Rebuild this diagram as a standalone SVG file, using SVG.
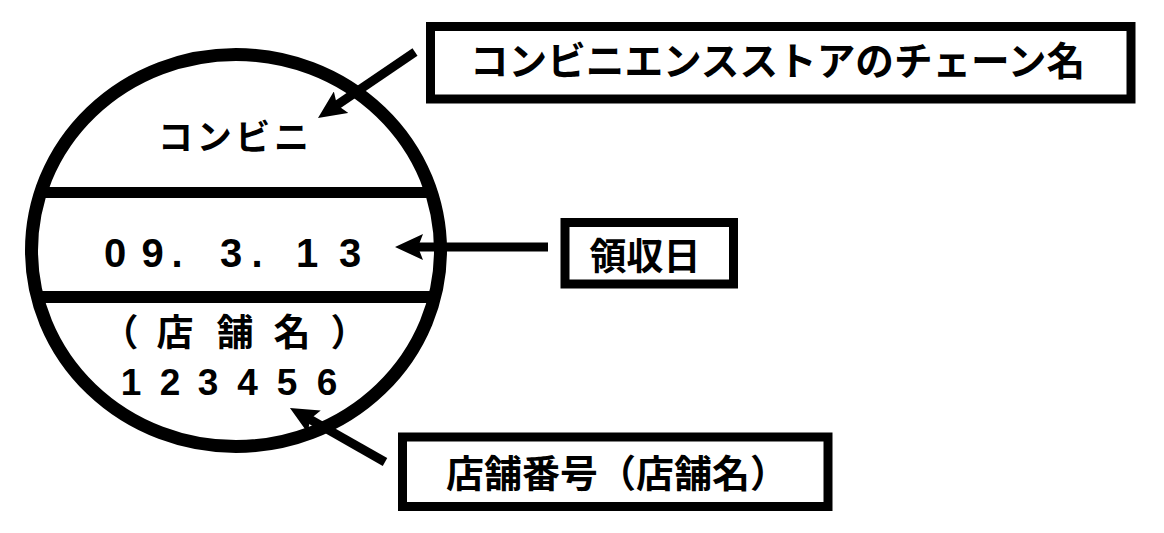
<svg xmlns="http://www.w3.org/2000/svg" width="1164" height="533" viewBox="0 0 1164 533">
<style>
.jp{font-family:"Noto Sans CJK JP","Noto Sans",sans-serif;font-weight:700;fill:#000}
.num{font-family:"Liberation Sans",Arial,sans-serif;font-weight:700;fill:#000}
.box{fill:#fff;stroke:#000;stroke-width:9}
.conn{stroke:#000;stroke-width:9;fill:none}
</style>
<defs>
<marker id="ah" markerUnits="userSpaceOnUse" markerWidth="28" markerHeight="26" viewBox="0 0 28 26" refX="13" refY="13" orient="auto">
<path d="M0,0 L28,13 L0,26 L5,13 Z" fill="#000"/>
</marker>
</defs>
<rect width="1164" height="533" fill="#fff"/>
<g id="stamp">
<ellipse cx="236" cy="250.5" rx="204.5" ry="196" fill="none" stroke="#000" stroke-width="13"/>
<line x1="40" y1="192.5" x2="432" y2="192.5" stroke="#000" stroke-width="11"/>
<line x1="37" y1="297" x2="435" y2="297" stroke="#000" stroke-width="12"/>
<text class="jp" x="158" y="134.5" font-size="35" dominant-baseline="central" textLength="151" lengthAdjust="spacing">コンビニ</text>
<g class="num" font-size="40" text-anchor="middle">
<text x="115" y="267">0</text>
<text x="152.5" y="267">9</text>
<text x="177" y="267">.</text>
<text x="231" y="267">3</text>
<text x="257" y="267">.</text>
<text x="307" y="267">1</text>
<text x="350" y="267">3</text>
</g>
<g class="jp" font-size="37" text-anchor="middle" dominant-baseline="central">
<text x="120" y="330">（</text>
<text x="175" y="330">店</text>
<text x="235" y="330">舗</text>
<text x="292" y="330">名</text>
<text x="349" y="330">）</text>
</g>
<g class="num" font-size="37" text-anchor="middle">
<text x="131" y="395">1</text>
<text x="170" y="395">2</text>
<text x="208" y="395">3</text>
<text x="247.5" y="395">4</text>
<text x="287" y="395">5</text>
<text x="327" y="395">6</text>
</g>
</g>
<g id="chain-name">
<rect class="box" x="430.5" y="26.5" width="700.5" height="72.5"/>
<text class="jp" x="470" y="58" font-size="39" dominant-baseline="central" textLength="615" lengthAdjust="spacingAndGlyphs">コンビニエンスストアのチェーン名</text>
</g>
<g id="receipt-date">
<rect class="box" x="565" y="222.5" width="168.5" height="61.5"/>
<text class="jp" x="645" y="253.5" font-size="37" text-anchor="middle" dominant-baseline="central">領収日</text>
</g>
<g id="store-number">
<rect class="box" x="402.5" y="437" width="425.5" height="69.5"/>
<text class="jp" x="617" y="470" font-size="38" text-anchor="middle" dominant-baseline="central">店舗番号（店舗名）</text>
</g>
<g id="connectors">
<line class="conn" x1="415" y1="52" x2="330.4" y2="109.5" marker-end="url(#ah)"/>
<line class="conn" x1="548" y1="247" x2="410" y2="247" marker-end="url(#ah)"/>
<line class="conn" x1="385" y1="462" x2="303" y2="415.4" marker-end="url(#ah)"/>
</g>
</svg>
